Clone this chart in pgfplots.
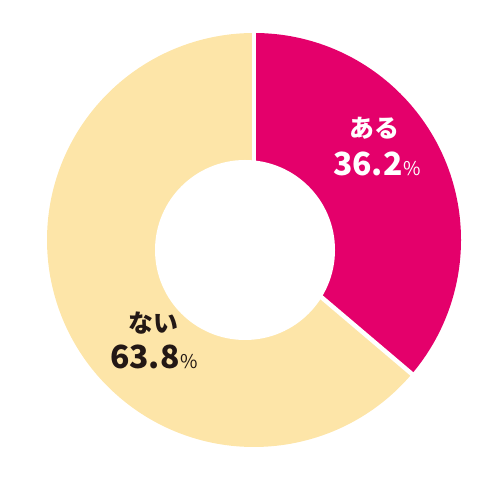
\documentclass[border=0pt]{standalone}
\usepackage{fontspec}
\setmainfont{Noto Sans CJK JP}
\usepackage{pgfplots}
\usepackage{pgfplotstable}
\pgfplotsset{compat=1.18}

\definecolor{aruColor}{HTML}{E4006B}
\definecolor{naiColor}{HTML}{FDE5A8}
\definecolor{txtDark}{HTML}{231815}

% share of answers (percent)
\pgfplotstableread{
label value
aru   36.2
nai   63.8
}\answers

\begin{document}
\begin{tikzpicture}
\pgfplotstablegetelem{0}{value}\of\answers \let\vAru\pgfplotsretval
\pgfplotstablegetelem{1}{value}\of\answers \let\vNai\pgfplotsretval
\pgfmathsetmacro\aEnd{90-3.6*\vAru}
\begin{axis}[
  width=500bp, height=500bp, scale only axis,
  xmin=0, xmax=500, ymin=0, ymax=500,
  hide axis, clip=false,
]
  \path (axis cs:0,0) rectangle (axis cs:500,500);
  % wedges, centre (254,260), outer radius 207
  \fill[aruColor] (axis cs:254,260) -- ++(90:207bp)
      arc[start angle=90, end angle=\aEnd, radius=207bp] -- cycle;
  \fill[naiColor] (axis cs:254,260) -- ++(\aEnd:207bp)
      arc[start angle=\aEnd, end angle=-270, radius=207bp] -- cycle;
  % separators
  \draw[white, line width=4bp] (axis cs:254,260) -- ++(90:212bp);
  \draw[white, line width=4.5bp] (axis cs:254,260) -- ++(\aEnd:212bp);
  % hole
  \fill[white] (axis cs:245,250) circle[radius=90bp];
  % labels
  \node[text=white, font=\bfseries\fontsize{25}{25}\selectfont] at (axis cs:374,372) {ある};
  \node[text=white, font=\bfseries\fontsize{32}{32}\selectfont] at (axis cs:377,336)
      {\pgfmathprintnumber[fixed,precision=1,assume math mode=true]{\vAru}\kern1bp{\mdseries\fontsize{19}{19}\selectfont\%}};
  \node[text=txtDark, font=\bfseries\fontsize{25}{25}\selectfont] at (axis cs:153,177) {ない};
  \node[text=txtDark, font=\bfseries\fontsize{32}{32}\selectfont] at (axis cs:154,143)
      {\pgfmathprintnumber[fixed,precision=1,assume math mode=true]{\vNai}\kern1bp{\mdseries\fontsize{19}{19}\selectfont\%}};
\end{axis}
\end{tikzpicture}
\end{document}
